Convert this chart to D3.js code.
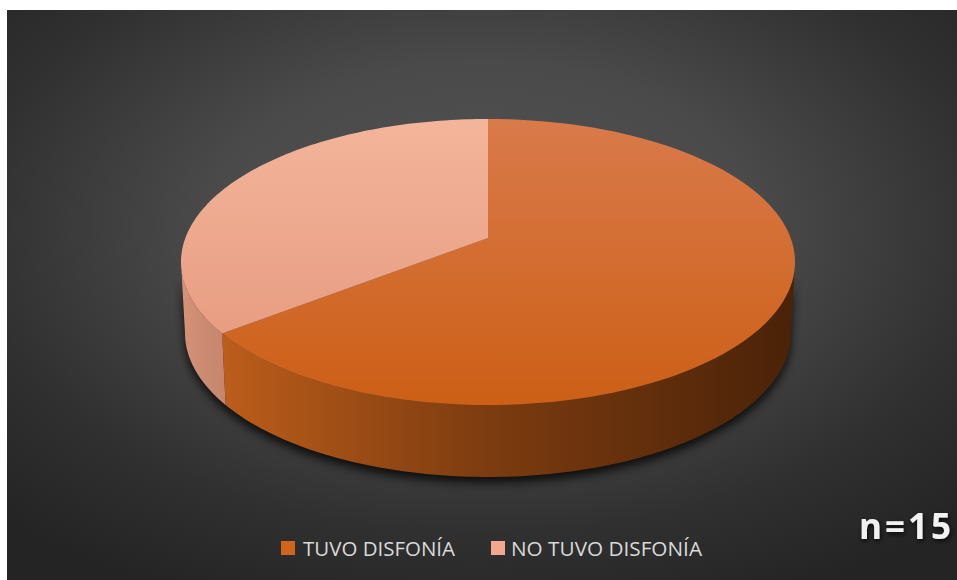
<!DOCTYPE html>
<html>
<head>
<meta charset="utf-8">
<script src="https://cdn.jsdelivr.net/npm/d3@7"></script>
<style>
  html, body { margin: 0; padding: 0; background: #ffffff; }
  svg { display: block; }
</style>
</head>
<body>
<svg id="chart" width="957" height="580"></svg>
<script>
// Survey result: voice disorder among respondents (n = 15)
const categories = ["TUVO DISFONÍA", "NO TUVO DISFONÍA"];
const counts = [10, 5];
const sampleLabel = "n=15";

const topColors = [["#D97A4B", "#CD5F16"], ["#F3B59B", "#E4957A"]];
const sideColors = [["#BB5D1B", "#7E3C10", "#4A2208"], ["#D89379", "#CB8A72", "#C4846C"]];
const legendColors = ["#D2651E", "#F0A98C"];

const W = 957, H = 580;
const svg = d3.select("#chart");
const defs = svg.append("defs");

// panel background
const bg = defs.append("radialGradient").attr("id", "bg")
  .attr("cx", 0.5).attr("cy", 0.38).attr("r", 0.72);
[[0, "#535353"], [0.4, "#4A4A4A"], [0.75, "#303030"], [1, "#242424"]]
  .forEach(([o, c]) => bg.append("stop").attr("offset", o).attr("stop-color", c));
svg.append("rect").attr("x", 7).attr("y", 10).attr("width", W - 7).attr("height", H - 10)
  .attr("fill", "url(#bg)");

// 3D pie geometry: top ellipse, bottom ellipse, apex of the top face
const cx = 488, cyTop = 262, rx = 307, ry = 143;
const cyBot = 333, rxB = 303, ryB = 144;
const apex = [488, 238];

const topPt = a => [cx + rx * Math.sin(a), cyTop - ry * Math.cos(a)];
const botPt = a => [cx + rxB * Math.sin(a), cyBot - ryB * Math.cos(a)];
const arcPts = (f, a0, a1) => d3.range(0, 121).map(i => f(a0 + (a1 - a0) * i / 120));

const pie = d3.pie().sort(null).value(d => d)(counts);

// gradients
pie.forEach((p, i) => {
  const g = defs.append("linearGradient").attr("id", "top" + i)
    .attr("gradientUnits", "userSpaceOnUse")
    .attr("x1", 0).attr("y1", cyTop - ry).attr("x2", 0).attr("y2", cyTop + ry);
  g.append("stop").attr("offset", 0).attr("stop-color", topColors[i][0]);
  g.append("stop").attr("offset", 1).attr("stop-color", topColors[i][1]);
  const s = defs.append("linearGradient").attr("id", "side" + i)
    .attr("gradientUnits", "userSpaceOnUse")
    .attr("x1", i === 0 ? 225 : 180).attr("y1", 0).attr("x2", i === 0 ? 795 : 235).attr("y2", 0);
  s.append("stop").attr("offset", 0).attr("stop-color", sideColors[i][0]);
  s.append("stop").attr("offset", 0.45).attr("stop-color", sideColors[i][1]);
  s.append("stop").attr("offset", 1).attr("stop-color", sideColors[i][2]);
});

const blur = defs.append("filter").attr("id", "shadow")
  .attr("x", "-20%").attr("y", "-20%").attr("width", "140%").attr("height", "140%");
blur.append("feGaussianBlur").attr("stdDeviation", 5);

const line = d3.line();

// soft shadow under the pie wall
const shadowPts = arcPts(botPt, Math.PI / 2, 3 * Math.PI / 2)
  .concat(arcPts(topPt, 3 * Math.PI / 2, Math.PI / 2));
svg.append("path").attr("d", line(shadowPts) + "Z")
  .attr("transform", "translate(0,6)")
  .attr("fill", "#000").attr("opacity", 0.75).attr("filter", "url(#shadow)");

// visible front wall of each slice
pie.forEach((p, i) => {
  const a0 = Math.max(p.startAngle, Math.PI / 2);
  const a1 = Math.min(p.endAngle, 3 * Math.PI / 2);
  if (a1 <= a0) return;
  const pts = arcPts(topPt, a0, a1).concat(arcPts(botPt, a1, a0));
  svg.append("path").attr("d", line(pts) + "Z")
    .attr("fill", `url(#side${i})`);
});

// top faces
pie.forEach((p, i) => {
  const pts = [apex].concat(arcPts(topPt, p.startAngle, p.endAngle));
  svg.append("path").attr("d", line(pts) + "Z")
    .attr("fill", `url(#top${i})`);
});

// legend
const legendX = [281, 491];
const textX = [303, 511];
const textLen = [152, 191];
categories.forEach((c, i) => {
  svg.append("rect").attr("x", legendX[i]).attr("y", 541).attr("width", 14).attr("height", 14)
    .attr("fill", legendColors[i]);
  svg.append("text").attr("x", textX[i]).attr("y", 555.5)
    .attr("font-family", "'Open Sans', 'Noto Sans', sans-serif")
    .attr("font-weight", 400)
    .attr("font-size", 20)
    .attr("textLength", textLen[i]).attr("lengthAdjust", "spacingAndGlyphs")
    .attr("fill", "#D9D9D9").text(c);
});

// sample size note
const glow = defs.append("filter").attr("id", "glow")
  .attr("x", "-20%").attr("y", "-30%").attr("width", "140%").attr("height", "160%");
glow.append("feDropShadow").attr("dx", 1).attr("dy", 2).attr("stdDeviation", 2)
  .attr("flood-color", "#000").attr("flood-opacity", 0.8);
svg.append("text").attr("x", 859).attr("y", 539)
  .attr("font-family", "'Open Sans', 'Noto Sans', sans-serif")
  .attr("font-weight", 700).attr("font-size", 35)
  .attr("textLength", 92).attr("lengthAdjust", "spacing")
  .attr("fill", "#F2F2F2").attr("filter", "url(#glow)").text(sampleLabel);
</script>
</body>
</html>
